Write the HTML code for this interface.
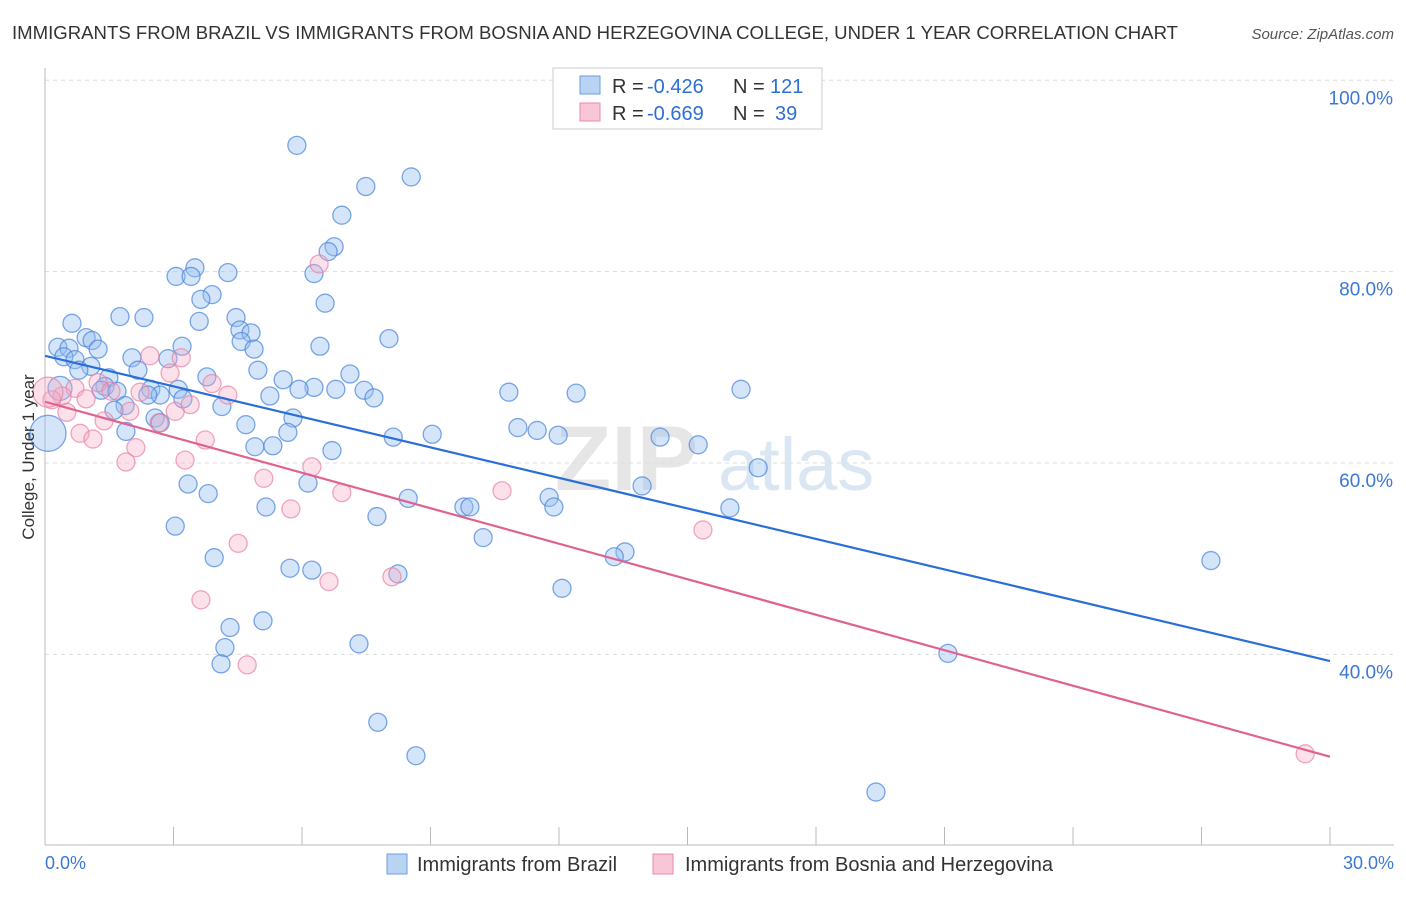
<!DOCTYPE html>
<html><head><meta charset="utf-8">
<style>
body{margin:0;background:#fff;font-family:"Liberation Sans",sans-serif;}
svg text{font-family:"Liberation Sans",sans-serif;}
</style></head>
<body>
<svg id="chart" width="1406" height="892" viewBox="0 0 1406 892" xmlns="http://www.w3.org/2000/svg">
<text x="12" y="39" font-size="18" fill="#333" textLength="1166" lengthAdjust="spacingAndGlyphs">IMMIGRANTS FROM BRAZIL VS IMMIGRANTS FROM BOSNIA AND HERZEGOVINA COLLEGE, UNDER 1 YEAR CORRELATION CHART</text>
<text x="1394" y="39" font-size="15" fill="#555" text-anchor="end" font-style="italic">Source: ZipAtlas.com</text>
<g>
<text x="555" y="490" font-size="92" fill="#e6e6e6" font-family="Liberation Serif" font-weight="bold">ZIP</text>
<text x="718" y="490" font-size="74" fill="#dbe6f3">atlas</text>
</g>
<g id="grid"></g>
<g id="axes"></g>
<g id="marks"></g>
<g id="trends"></g>
<text transform="translate(34,457) rotate(-90)" font-size="17" fill="#333" text-anchor="middle">College, Under 1 year</text>
<g>
<rect x="553" y="68" width="269" height="61" fill="#fff" stroke="#ccc"/>
<rect x="580" y="76" width="20" height="18" fill="#b9d3f3" stroke="#6a9fe0"/>
<rect x="580" y="103" width="20" height="18" fill="#f8c6d6" stroke="#e88aa8"/>
<text x="612" y="93" font-size="20" fill="#333">R =</text>
<text x="647" y="93" font-size="20" fill="#2d6fd6">-0.426</text>
<text x="733" y="93" font-size="20" fill="#333">N =</text>
<text x="770" y="93" font-size="20" fill="#2d6fd6">121</text>
<text x="612" y="120" font-size="20" fill="#333">R =</text>
<text x="647" y="120" font-size="20" fill="#2d6fd6">-0.669</text>
<text x="733" y="120" font-size="20" fill="#333">N =</text>
<text x="775" y="120" font-size="20" fill="#2d6fd6">39</text>
</g>
<g>
<rect x="387" y="854" width="20" height="20" fill="#b9d3f3" stroke="#6a9fe0"/>
<text x="417" y="871" font-size="20" fill="#333">Immigrants from Brazil</text>
<rect x="653" y="854" width="20" height="20" fill="#f8c6d6" stroke="#e88aa8"/>
<text x="685" y="871" font-size="20" fill="#333">Immigrants from Bosnia and Herzegovina</text>
</g>
</svg>
<script>
const blueX=[5.88,8.55,7.49,6.93,6.75,6.61,3.50,3.06,3.41,4.27,6.28,3.90,3.64,6.54,1.75,2.31,4.46,0.63,3.60,4.55,4.81,0.96,1.10,8.03,4.58,0.30,1.24,0.56,3.20,6.42,0.44,0.70,2.03,4.88,2.87,1.07,0.79,2.17,4.97,7.12,3.78,5.56,1.49,1.40,1.31,2.47,1.68,3.11,2.69,6.28,6.79,7.45,5.93,5.25,7.68,10.83,12.40,16.25,3.22,2.40,1.87,1.61,4.13,5.79,2.57,2.69,4.69,1.89,5.67,8.13,9.04,11.04,11.49,11.98,14.36,15.25,4.90,5.32,6.70,16.65,13.94,3.34,6.14,3.81,8.48,11.77,9.78,9.92,11.88,5.16,7.75,15.99,3.04,10.23,13.54,13.29,3.95,5.72,6.23,8.24,27.22,12.07,5.09,4.32,4.20,7.33,4.11,21.08,7.77,8.66,19.40,0.07,0.35];
const blueY=[93.2,89.9,88.9,85.9,82.6,82.1,80.4,79.5,79.5,79.9,79.8,77.6,77.1,76.7,75.3,75.2,75.2,74.6,74.8,73.9,73.6,73.1,72.8,73.0,72.7,72.1,71.9,72.0,72.2,72.2,71.1,70.8,71.0,71.9,70.9,70.1,69.7,69.7,69.7,69.3,69.0,68.7,68.9,68.0,67.6,67.7,67.5,67.7,67.1,67.9,67.7,67.6,67.7,67.0,66.8,67.4,67.3,67.7,66.7,67.1,66.0,65.5,65.9,64.7,64.7,64.2,64.0,63.3,63.2,62.7,63.0,63.7,63.4,62.9,62.7,61.9,61.7,61.8,61.3,59.5,57.6,57.8,57.9,56.8,56.3,56.4,55.4,55.4,55.4,55.4,54.4,55.3,53.4,52.2,50.7,50.2,50.1,49.0,48.8,48.4,49.8,46.9,43.5,42.8,40.7,41.1,39.0,40.1,32.9,29.4,25.6,63.1,67.8];
const blueSize=[9,9,9,9,9,9,9,9,9,9,9,9,9,9,9,9,9,9,9,9,9,9,9,9,9,9,9,9,9,9,9,9,9,9,9,9,9,9,9,9,9,9,9,9,9,9,9,9,9,9,9,9,9,9,9,9,9,9,9,9,9,9,9,9,9,9,9,9,9,9,9,9,9,9,9,9,9,9,9,9,9,9,9,9,9,9,9,9,9,9,9,9,9,9,9,9,9,9,9,9,9,9,9,9,9,9,9,9,9,9,9,18,12];
const pinkX=[6.40,2.45,3.18,2.92,3.90,0.70,1.24,1.54,0.40,2.22,4.27,0.96,0.16,0.51,3.04,3.39,2.66,1.38,1.98,0.82,1.12,3.74,2.12,1.89,3.27,6.23,5.11,6.93,10.67,5.74,15.36,4.51,6.63,8.10,3.64,4.72,29.42,0.07];
const pinkY=[80.8,71.2,71.0,69.4,68.3,67.8,68.4,67.5,67.0,67.4,67.1,66.7,66.6,65.3,65.4,66.1,64.2,64.4,65.4,63.1,62.5,62.4,61.6,60.1,60.3,59.6,58.4,56.9,57.1,55.2,53.0,51.6,47.6,48.1,45.7,38.9,29.6,67.4];
const pinkSize=[9,9,9,9,9,9,9,9,9,9,9,9,9,9,9,9,9,9,9,9,9,9,9,9,9,9,9,9,9,9,9,9,9,9,9,9,9,15];
const trendBlue=[71.2,39.3];
const trendPink=[66.4,29.3];
const yTicks=[40,60,80,100];
const yTickLabels=["40.0%","60.0%","80.0%","100.0%"];
const xTicks=[0,3,6,9,12,15,18,21,24,27,30];
const NS="http://www.w3.org/2000/svg";
const xs=v=>45+v*(1285/30);
const ys=v=>1037-v*9.567;
function mk(tag,attrs,parent){const e=document.createElementNS(NS,tag);for(const k in attrs)e.setAttribute(k,attrs[k]);parent.appendChild(e);return e;}
const grid=document.getElementById('grid'),axes=document.getElementById('axes'),marks=document.getElementById('marks'),trends=document.getElementById('trends');
yTicks.forEach((t,i)=>{
 const l=mk('line',{x1:45,x2:1394,y1:ys(t),y2:ys(t),stroke:'#ddd','stroke-dasharray':'4,4'},grid);
 
 
 const tx=mk('text',{x:1393,y:ys(t)+24,'font-size':19,fill:'#3a78d8','text-anchor':'end'},axes);
 tx.textContent=yTickLabels[i];
 
 
});
const ya=mk('line',{x1:45,x2:45,y1:68,y2:845,stroke:'#bbb'},axes);


const xa=mk('line',{x1:45,x2:1394,y1:845,y2:845,stroke:'#bbb'},axes);


xTicks.forEach(t=>{
 const l=mk('line',{x1:xs(t),x2:xs(t),y1:827,y2:845,stroke:'#bbb'},axes);
 
 
});
const xl0=mk('text',{x:45,y:869,'font-size':18,fill:'#3a78d8'},axes);xl0.textContent='0.0%';


const xl1=mk('text',{x:1394,y:869,'font-size':18,fill:'#3a78d8','text-anchor':'end'},axes);xl1.textContent='30.0%';


blueX.forEach((x,i)=>{
 const c=mk('circle',{cx:xs(x),cy:ys(blueY[i]),r:blueSize[i],fill:'rgba(150,190,240,0.4)',stroke:'rgba(70,130,220,0.7)','stroke-width':1.3},marks);
 
 
});
pinkX.forEach((x,i)=>{
 const c=mk('circle',{cx:xs(x),cy:ys(pinkY[i]),r:pinkSize[i],fill:'rgba(245,170,195,0.35)',stroke:'rgba(232,130,165,0.7)','stroke-width':1.3},marks);
 
 
});
const tb=mk('line',{x1:xs(0),y1:ys(trendBlue[0]),x2:xs(30),y2:ys(trendBlue[1]),stroke:'#2a6fd8','stroke-width':2.2},trends);


const tp=mk('line',{x1:xs(0),y1:ys(trendPink[0]),x2:xs(30),y2:ys(trendPink[1]),stroke:'#e0628e','stroke-width':2.2},trends);


</script>
</body></html>
